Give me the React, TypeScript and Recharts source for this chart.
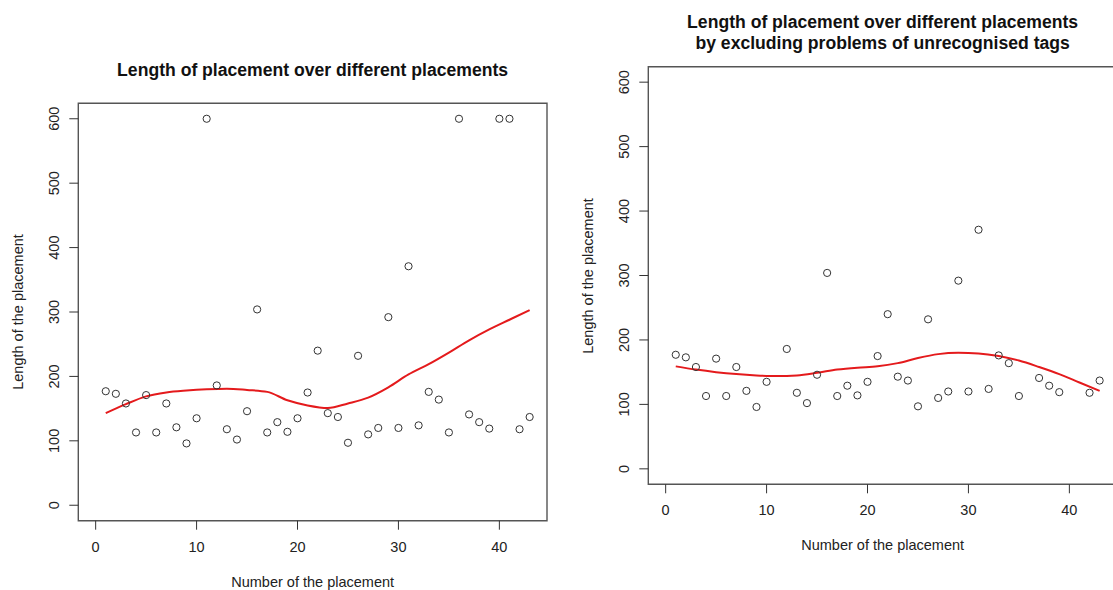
import React from 'react';
import { ComposedChart, Scatter, Line, XAxis, YAxis, ReferenceArea } from 'recharts';

// ---- Data ----
const placementsAll = [1, 2, 3, 4, 5, 6, 7, 8, 9, 10, 11, 12, 13, 14, 15, 16, 17, 18, 19, 20, 21, 22, 23, 24, 25, 26, 27, 28, 29, 30, 31, 32, 33, 34, 35, 36, 37, 38, 39, 40, 41, 42, 43];
const lengthsAll = [177, 173, 158, 113, 171, 113, 158, 121, 96, 135, 600, 186, 118, 102, 146, 304, 113, 129, 114, 135, 175, 240, 143, 137, 97, 232, 110, 120, 292, 120, 371, 124, 176, 164, 113, 600, 141, 129, 119, 600, 600, 118, 137];

const placementsFiltered = [1, 2, 3, 4, 5, 6, 7, 8, 9, 10, 12, 13, 14, 15, 16, 17, 18, 19, 20, 21, 22, 23, 24, 25, 26, 27, 28, 29, 30, 31, 32, 33, 34, 35, 37, 38, 39, 42, 43];
const lengthsFiltered = [177, 173, 158, 113, 171, 113, 158, 121, 96, 135, 186, 118, 102, 146, 304, 113, 129, 114, 135, 175, 240, 143, 137, 97, 232, 110, 120, 292, 120, 371, 124, 176, 164, 113, 141, 129, 119, 118, 137];

const curveX = [1, 3, 5, 7, 9, 11, 13, 15, 17, 19, 21, 23, 25, 27, 29, 31, 33, 35, 37, 39, 41, 43];
const curveAllY = [143, 157, 169, 175, 178, 180, 181, 179, 176, 163, 155, 151, 158, 167, 183, 203, 219, 237, 256, 273, 288, 303];
const curveFilteredY = [159, 154, 150, 147, 145, 144, 145, 149, 154, 157, 159, 164, 172, 178, 180, 179, 175, 168, 158, 147, 134, 121];

const xTicks = [0, 10, 20, 30, 40];
const yTicks = [0, 100, 200, 300, 400, 500, 600];

const titleLeft = ['Length of placement over different placements'];
const titleRight = ['Length of placement over different placements', 'by excluding problems of unrecognised tags'];
const xLabel = 'Number of the placement';
const yLabel = 'Length of the placement';

// ---- Styling ----
const FONT = '"Liberation Sans", Arial, Helvetica, sans-serif';
const X_DOMAIN: [number, number] = [-1.72, 44.72];
const Y_DOMAIN: [number, number] = [-24, 624];
const Y_AXIS_W = 30;
const X_AXIS_H = 30;

type PanelProps = {
  left: number;
  top: number;
  width: number;
  height: number;
  box: { l: number; r: number; t: number; b: number };
  xs: number[];
  ys: number[];
  cy: number[];
  title: string[];
  titleY: number;
};

function Panel({ left, top, width, height, box, xs, ys, cy, title, titleY }: PanelProps) {
  const points = xs.map((x, i) => ({ x, y: ys[i] }));
  const curve = curveX.map((x, i) => ({ x, y: cy[i] }));
  const margin = {
    left: box.l - Y_AXIS_W,
    right: width - box.r,
    top: box.t,
    bottom: height - box.b - X_AXIS_H,
  };
  const boxCx = (box.l + box.r) / 2;
  const boxCy = (box.t + box.b) / 2;

  const xTick = (p: any) => (
    <text
      x={p.x}
      y={box.b + 26}
      textAnchor="middle"
      dominantBaseline="central"
      fontFamily={FONT}
      fontSize={14.5}
      fill="#222"
    >
      {p.payload.value}
    </text>
  );
  const yTick = (p: any) => {
    const tx = box.l - 24;
    return (
      <text
        x={tx}
        y={p.y}
        transform={`rotate(-90 ${tx} ${p.y})`}
        textAnchor="middle"
        dominantBaseline="central"
        fontFamily={FONT}
        fontSize={14.5}
        fill="#222"
      >
        {p.payload.value}
      </text>
    );
  };

  return (
    <div style={{ position: 'absolute', left, top, width, height }}>
      <ComposedChart width={width} height={height} margin={margin}>
        <XAxis
          dataKey="x"
          type="number"
          domain={X_DOMAIN}
          allowDataOverflow
          ticks={xTicks}
          interval={0}
          height={X_AXIS_H}
          axisLine={false}
          tickLine={{ stroke: '#333', strokeWidth: 1 }}
          tickSize={9}
          tick={xTick}
        />
        <YAxis
          dataKey="y"
          type="number"
          domain={Y_DOMAIN}
          allowDataOverflow
          ticks={yTicks}
          interval={0}
          width={Y_AXIS_W}
          axisLine={false}
          tickLine={{ stroke: '#333', strokeWidth: 1 }}
          tickSize={9}
          tick={yTick}
        />
        <ReferenceArea
          x1={X_DOMAIN[0]}
          x2={X_DOMAIN[1]}
          y1={Y_DOMAIN[0]}
          y2={Y_DOMAIN[1]}
          fill="none"
          stroke="#555"
          strokeWidth={1.4}
          ifOverflow="visible"
        />
        <Scatter
          data={points}
          dataKey="y"
          isAnimationActive={false}
          shape={(p: any) => (
            <circle cx={p.cx} cy={p.cy} r={3.6} fill="none" stroke="#333" strokeWidth={1} />
          )}
        />
        <Line
          data={curve}
          dataKey="y"
          type="monotone"
          stroke="#e41a1c"
          strokeWidth={2}
          dot={false}
          activeDot={false}
          isAnimationActive={false}
        />
      </ComposedChart>
      {title.map((t, i) => (
        <div
          key={i}
          style={{
            position: 'absolute',
            left: boxCx - 300,
            width: 600,
            top: titleY + i * 21.6 - 11,
            height: 22,
            lineHeight: '22px',
            textAlign: 'center',
            fontFamily: FONT,
            fontWeight: 'bold',
            fontSize: 17.6,
            color: '#111',
            whiteSpace: 'nowrap',
          }}
        >
          {t}
        </div>
      ))}
      <div
        style={{
          position: 'absolute',
          left: boxCx - 200,
          width: 400,
          top: box.b + 61 - 10,
          height: 20,
          lineHeight: '20px',
          textAlign: 'center',
          fontFamily: FONT,
          fontSize: 14.5,
          color: '#222',
          whiteSpace: 'nowrap',
        }}
      >
        {xLabel}
      </div>
      <div
        style={{
          position: 'absolute',
          left: box.l - 60 - 150,
          width: 300,
          top: boxCy - 10,
          height: 20,
          lineHeight: '20px',
          textAlign: 'center',
          fontFamily: FONT,
          fontSize: 14.5,
          color: '#222',
          whiteSpace: 'nowrap',
          transform: 'rotate(-90deg)',
          transformOrigin: '150px 10px',
        }}
      >
        {yLabel}
      </div>
    </div>
  );
}

export default function App() {
  return (
    <div
      style={{
        position: 'absolute',
        left: 0,
        top: 0,
        width: 1113,
        height: 590,
        overflow: 'hidden',
        background: '#fff',
      }}
    >
      <Panel
        left={0}
        top={0}
        width={570}
        height={590}
        box={{ l: 78.3, r: 547, t: 103.3, b: 520.7 }}
        xs={placementsAll}
        ys={lengthsAll}
        cy={curveAllY}
        title={titleLeft}
        titleY={70}
      />
      <Panel
        left={570}
        top={0}
        width={570}
        height={590}
        box={{ l: 78.3, r: 547, t: 66.7, b: 484.3 }}
        xs={placementsFiltered}
        ys={lengthsFiltered}
        cy={curveFilteredY}
        title={titleRight}
        titleY={21.7}
      />
    </div>
  );
}
